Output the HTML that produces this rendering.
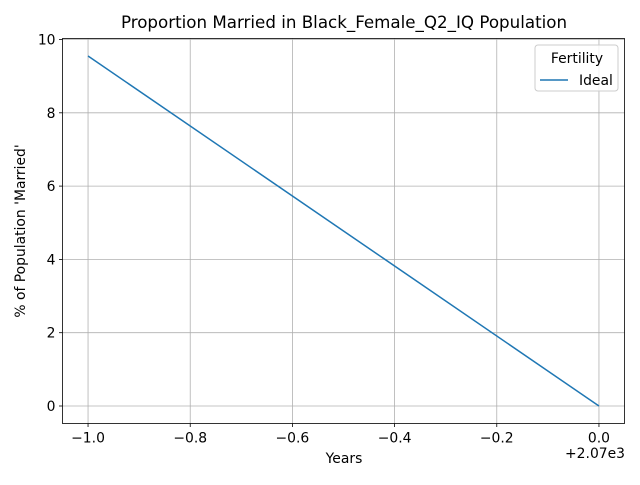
<!DOCTYPE html>
<html><head><meta charset="utf-8"><style>
body{margin:0;background:#fff}
svg text{font-family:"DejaVu Sans","Liberation Sans",sans-serif;fill:#000}
</style></head><body>
<svg width="640" height="480" xmlns="http://www.w3.org/2000/svg">
<rect width="640" height="480" fill="#fff"/>
<g id="grid"></g>
<g id="ticks"></g>
<polyline id="line" fill="none" stroke="#1f77b4" stroke-width="1.5"/>
<rect x="62.5" y="38.5" width="562" height="385" fill="none" stroke="#000" stroke-width="0.8"/>
<text x="344" y="28" font-size="16.7" text-anchor="middle">Proportion Married in Black_Female_Q2_IQ Population</text>
<text x="344" y="463" font-size="13.9" text-anchor="middle">Years</text>
<text transform="translate(25,231) rotate(-90)" font-size="13.9" text-anchor="middle">% of Population 'Married'</text>
<text x="625" y="458" font-size="13.9" text-anchor="end">+2.07e3</text>
<g>
<rect x="535" y="45" width="83" height="46" rx="3" fill="#fff" fill-opacity="0.8" stroke="#ccc"/>
<text x="577" y="63" font-size="13.9" text-anchor="middle">Fertility</text>
<line x1="540" y1="80" x2="568" y2="80" stroke="#1f77b4" stroke-width="1.5"/>
<text x="579" y="85" font-size="13.9">Ideal</text>
</g>
</svg>
<script>
const xValues=[-1.0,0.0];
const yValues=[9.55,0];
const xTicks=[-1.0,-0.8,-0.6,-0.4,-0.2,0.0];
const xTickLabels=["−1.0","−0.8","−0.6","−0.4","−0.2","0.0"];
const yTicks=[0,2,4,6,8,10];
const yTickLabels=["0","2","4","6","8","10"];
const X0=62.5,X1=624.5,Y0=423.5,Y1=38.5;
const xmin=-1.05,xmax=0.05,ymin=-0.4775,ymax=10.0275;
const sx=v=>X0+(v-xmin)/(xmax-xmin)*(X1-X0);
const sy=v=>Y0-(v-ymin)/(ymax-ymin)*(Y0-Y1);
const NS="http://www.w3.org/2000/svg";
const grid=document.getElementById('grid'),ticks=document.getElementById('ticks');
function mk(tag,attrs,parent){const e=document.createElementNS(NS,tag);for(const k in attrs)e.setAttribute(k,attrs[k]);parent.appendChild(e);return e;}
xTicks.forEach((t,i)=>{const x=sx(t);
const g=mk('line',{x1:x,x2:x,y1:Y1,y2:Y0,stroke:'#b0b0b0','stroke-width':0.8},grid);


const tk=mk('line',{x1:x,x2:x,y1:Y0,y2:Y0+3.5,stroke:'#000','stroke-width':0.8},ticks);


const tx=mk('text',{x:x,y:Y0+19,'font-size':13.9,'text-anchor':'middle'},ticks);tx.textContent=xTickLabels[i];


});
yTicks.forEach((t,i)=>{const y=sy(t);
const g=mk('line',{x1:X0,x2:X1,y1:y,y2:y,stroke:'#b0b0b0','stroke-width':0.8},grid);


const tk=mk('line',{x1:X0-3.5,x2:X0,y1:y,y2:y,stroke:'#000','stroke-width':0.8},ticks);


const tx=mk('text',{x:X0-7,y:y+5,'font-size':13.9,'text-anchor':'end'},ticks);tx.textContent=yTickLabels[i];


});
document.getElementById('line').setAttribute('points',xValues.map((x,i)=>sx(x)+','+sy(yValues[i])).join(' '));
</script>
</body></html>
